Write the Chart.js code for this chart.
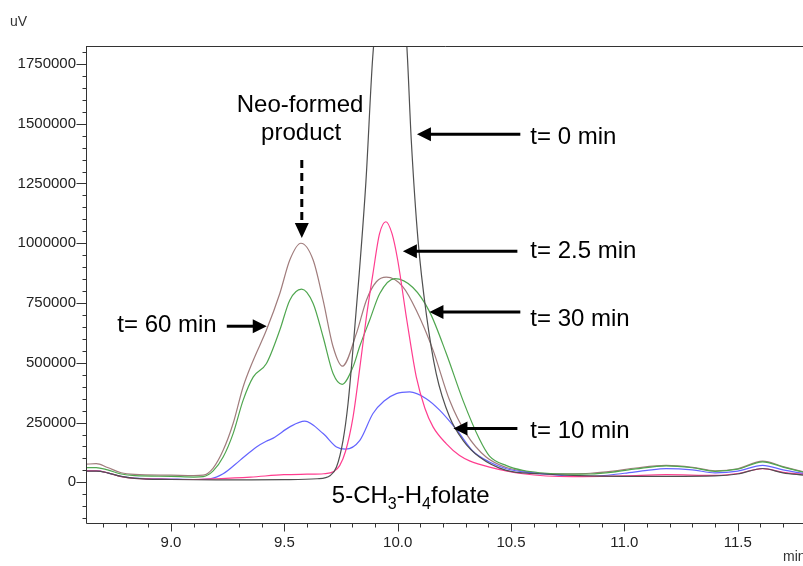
<!DOCTYPE html>
<html>
<head>
<meta charset="utf-8">
<style>
html,body{margin:0;padding:0;background:#fff;overflow:hidden}
canvas{display:block}
</style>
<script src="https://cdn.jsdelivr.net/npm/chart.js@4.4.0/dist/chart.umd.min.js"></script>
</head>
<body>
<canvas id="c" width="803" height="566" style="width:803px;height:566px"></canvas>
<script>
// ---------- data (retention time in min, signal in uV) ----------
const t0Time   = [8.625, 8.67, 8.72, 8.78, 8.84, 9.0, 9.2, 9.351, 9.5, 9.645, 9.703, 9.73, 9.759, 9.781, 9.803, 9.83, 9.86, 9.89, 9.92, 9.965, 10.01, 10.04, 10.06, 10.09, 10.126, 10.17, 10.229, 10.288, 10.361, 10.479, 10.626, 10.8, 11.0, 11.2, 11.4, 11.5, 11.61, 11.7, 11.79];
const t0Signal = [47000, 47000, 40000, 25000, 17000, 12000, 10000, 10000, 11000, 15000, 29000, 64000, 176000, 330000, 560000, 870000, 1260000, 1780000, 2050000, 2330000, 2150000, 1830000, 1430000, 1010000, 706000, 455000, 273000, 176000, 106000, 50000, 36000, 28000, 25000, 25000, 27000, 35000, 58000, 40000, 30000];

const t25Time   = [8.625, 8.67, 8.72, 8.78, 8.84, 9.0, 9.1, 9.2, 9.351, 9.498, 9.6, 9.674, 9.718, 9.744, 9.77, 9.803, 9.833, 9.862, 9.891, 9.92, 9.948, 9.975, 10.0, 10.038, 10.06, 10.082, 10.12, 10.156, 10.214, 10.273, 10.317, 10.405, 10.552, 10.77, 11.0, 11.184, 11.4, 11.5, 11.61, 11.7, 11.79];
const t25Signal = [48000, 48000, 40000, 24000, 17000, 13000, 12000, 15000, 22000, 32000, 34000, 36000, 45000, 70000, 130000, 273000, 480000, 692000, 874000, 1040000, 1090000, 1040000, 930000, 692000, 560000, 441000, 310000, 232000, 162000, 112000, 90000, 64000, 36000, 24000, 27000, 32000, 29000, 37000, 57000, 42000, 33000];

const t10Time   = [8.625, 8.67, 8.72, 8.78, 8.84, 9.0, 9.1, 9.172, 9.23, 9.304, 9.377, 9.42, 9.451, 9.524, 9.59, 9.671, 9.73, 9.77, 9.833, 9.891, 9.94, 9.994, 10.053, 10.126, 10.185, 10.26, 10.332, 10.405, 10.479, 10.626, 10.846, 11.0, 11.1, 11.184, 11.3, 11.4, 11.5, 11.61, 11.7, 11.79];
const t10Signal = [48000, 48000, 40000, 25000, 18000, 14000, 12000, 15000, 36000, 92000, 148000, 172000, 185000, 232000, 256000, 204000, 148000, 139000, 176000, 288000, 340000, 371000, 378000, 350000, 302000, 220000, 130000, 85000, 57000, 36000, 25000, 38000, 50000, 57000, 52000, 40000, 47000, 71000, 52000, 37000];

const t30Time   = [8.625, 8.67, 8.72, 8.78, 8.84, 9.0, 9.1, 9.142, 9.186, 9.23, 9.274, 9.318, 9.363, 9.421, 9.48, 9.524, 9.576, 9.627, 9.671, 9.715, 9.755, 9.803, 9.833, 9.877, 9.921, 9.987, 10.067, 10.141, 10.214, 10.288, 10.361, 10.405, 10.48, 10.552, 10.626, 10.75, 10.85, 10.95, 11.05, 11.184, 11.3, 11.4, 11.5, 11.61, 11.7, 11.79];
const t30Signal = [62000, 62000, 52000, 35000, 28000, 25000, 22000, 24000, 48000, 106000, 204000, 343000, 441000, 497000, 637000, 762000, 808000, 748000, 608000, 455000, 410000, 483000, 570000, 680000, 790000, 852000, 815000, 713000, 540000, 343000, 180000, 110000, 70000, 50000, 40000, 34000, 35000, 43000, 56000, 69000, 61000, 46000, 55000, 86000, 64000, 42000];

const t60Time   = [8.625, 8.67, 8.72, 8.78, 8.84, 9.0, 9.1, 9.142, 9.186, 9.23, 9.274, 9.318, 9.363, 9.421, 9.48, 9.524, 9.573, 9.627, 9.671, 9.715, 9.756, 9.818, 9.862, 9.906, 9.95, 10.023, 10.082, 10.156, 10.229, 10.302, 10.39, 10.48, 10.552, 10.626, 10.75, 10.85, 10.95, 11.05, 11.184, 11.3, 11.4, 11.5, 11.61, 11.7, 11.79];
const t60Signal = [76000, 78000, 62000, 40000, 33000, 30000, 28000, 30000, 60000, 134000, 246000, 399000, 511000, 637000, 790000, 930000, 1000000, 930000, 762000, 567000, 486000, 623000, 762000, 839000, 858000, 818000, 720000, 553000, 343000, 204000, 106000, 62000, 47000, 38000, 36000, 38000, 47000, 60000, 71000, 63000, 48000, 57000, 89000, 66000, 44000];

const seriesLabels = ['t= 0 min', 't= 2.5 min', 't= 10 min', 't= 30 min', 't= 60 min'];
const xMajorTicks = [9.0, 9.5, 10.0, 10.5, 11.0, 11.5];
const yMajorTicks = [0, 250000, 500000, 750000, 1000000, 1250000, 1500000, 1750000];
const xRange = [8.625, 11.788];
const yRange = [-170000, 1825000];

// ---------- styling ----------
const FONT = "'Liberation Sans', Arial, Helvetica, sans-serif";
const AXIS_COLOR = '#333';
const traces = [
  {label: seriesLabels[0], time: t0Time,  signal: t0Signal,  color: '#505050'},
  {label: seriesLabels[1], time: t25Time, signal: t25Signal, color: '#ff3d8f'},
  {label: seriesLabels[2], time: t10Time, signal: t10Signal, color: '#6464ff'},
  {label: seriesLabels[3], time: t30Time, signal: t30Signal, color: '#4fa64f'},
  {label: seriesLabels[4], time: t60Time, signal: t60Signal, color: '#a07c7c'}
];

// minor ticks lists
const xTickValues = [];
for (let k = 87; k <= 117; k++) xTickValues.push(k / 10);
const yTickValues = [];
for (let k = -3; k <= 36; k++) yTickValues.push(k * 50000);

// annotations in data coordinates (time, signal)
const arrows = [
  {from: [9.246, 653000],  to: [9.4225, 653000]},   // t=60
  {from: [10.541, 1456000], to: [10.085, 1456000]}, // t=0
  {from: [10.528, 967000], to: [10.023, 967000]},   // t=2.5
  {from: [10.541, 712000], to: [10.140, 712000]},   // t=30
  {from: [10.528, 225000], to: [10.246, 225000]}    // t=10
];
const labels = [
  {text: seriesLabels[4], at: [8.763, 628000], align: 'left'},
  {text: seriesLabels[0], at: [10.585, 1414000], align: 'left'},
  {text: seriesLabels[1], at: [10.585, 938000], align: 'left'},
  {text: seriesLabels[3], at: [10.585, 655000], align: 'left'},
  {text: seriesLabels[2], at: [10.585, 186000], align: 'left'},
  {text: 'Neo-formed', at: [9.5695, 1551000], align: 'center'},
  {text: 'product', at: [9.574, 1432000], align: 'center'}
];
const dashedArrow = {from: [9.577, 1348000], to: [9.577, 1022000]};
const folateLabelAt = [9.7095, -88000];

function drawArrowHead(ctx, x1, y1, x2, y2, len, half) {
  const ang = Math.atan2(y2 - y1, x2 - x1);
  ctx.beginPath();
  ctx.moveTo(x2, y2);
  ctx.lineTo(x2 - len * Math.cos(ang) + half * Math.sin(ang), y2 - len * Math.sin(ang) - half * Math.cos(ang));
  ctx.lineTo(x2 - len * Math.cos(ang) - half * Math.sin(ang), y2 - len * Math.sin(ang) + half * Math.cos(ang));
  ctx.closePath();
  ctx.fill();
}

const decorPlugin = {
  id: 'decor',
  afterDraw(chart) {
    const {ctx, chartArea: a, scales: {x, y}} = chart;
    ctx.save();
    // frame
    ctx.strokeStyle = AXIS_COLOR;
    ctx.lineWidth = 1;
    ctx.beginPath();
    ctx.moveTo(a.left + 0.5, a.top + 0.5);
    ctx.lineTo(a.right + 1, a.top + 0.5);
    ctx.moveTo(a.left + 0.5, a.top);
    ctx.lineTo(a.left + 0.5, a.bottom + 0.5);
    ctx.lineTo(a.right + 1, a.bottom + 0.5);
    ctx.stroke();
    // y ticks
    ctx.beginPath();
    y.ticks.forEach(t => {
      const py = Math.round(y.getPixelForValue(t.value)) + 0.5;
      const major = yMajorTicks.includes(t.value);
      ctx.moveTo(a.left + 0.5, py);
      ctx.lineTo(a.left + 0.5 - (major ? 10 : 4), py);
    });
    // x ticks
    x.ticks.forEach(t => {
      const px = Math.round(x.getPixelForValue(t.value)) + 0.5;
      const major = xMajorTicks.some(m => Math.abs(m - t.value) < 1e-6);
      ctx.moveTo(px, a.bottom + 0.5);
      ctx.lineTo(px, a.bottom + 0.5 + (major ? 8 : 4));
    });
    ctx.stroke();

    // axis unit labels
    ctx.fillStyle = '#333';
    ctx.font = '14px ' + FONT;
    ctx.textBaseline = 'alphabetic';
    ctx.textAlign = 'left';
    ctx.fillText('uV', 10, 26);
    ctx.fillText('min', 783, 561);

    // annotations
    ctx.fillStyle = '#000';
    ctx.strokeStyle = '#000';
    ctx.lineWidth = 3;
    arrows.forEach(ar => {
      const x1 = x.getPixelForValue(ar.from[0]), y1 = y.getPixelForValue(ar.from[1]);
      const x2 = x.getPixelForValue(ar.to[0]), y2 = y.getPixelForValue(ar.to[1]);
      const dir = Math.sign(x2 - x1);
      ctx.beginPath();
      ctx.moveTo(x1, y1);
      ctx.lineTo(x2 - dir * 10, y2);
      ctx.stroke();
      drawArrowHead(ctx, x1, y1, x2, y2, 14, 7);
    });
    // dashed arrow
    {
      const x1 = x.getPixelForValue(dashedArrow.from[0]), y1 = y.getPixelForValue(dashedArrow.from[1]);
      const x2 = x.getPixelForValue(dashedArrow.to[0]), y2 = y.getPixelForValue(dashedArrow.to[1]);
      ctx.setLineDash([8, 5]);
      ctx.beginPath();
      ctx.moveTo(x1, y1);
      ctx.lineTo(x2, y2 - 14);
      ctx.stroke();
      ctx.setLineDash([]);
      drawArrowHead(ctx, x1, y1, x2, y2, 15, 7);
    }
    ctx.font = '24px ' + FONT;
    labels.forEach(l => {
      ctx.textAlign = l.align;
      ctx.fillText(l.text, x.getPixelForValue(l.at[0]), y.getPixelForValue(l.at[1]));
    });
    // 5-CH3-H4folate with subscripts
    {
      let px = x.getPixelForValue(folateLabelAt[0]);
      const py = y.getPixelForValue(folateLabelAt[1]);
      ctx.textAlign = 'left';
      const parts = [['5-CH', false], ['3', true], ['-H', false], ['4', true], ['folate', false]];
      parts.forEach(([s, sub]) => {
        ctx.font = (sub ? '16px ' : '24px ') + FONT;
        ctx.fillText(s, px, sub ? py + 6 : py);
        px += ctx.measureText(s).width;
      });
    }
    ctx.restore();
  }
};

new Chart(document.getElementById('c'), {
  type: 'line',
  data: {
    datasets: traces.map(tr => ({
      label: tr.label,
      data: tr.time.map((t, i) => ({x: t, y: tr.signal[i]})),
      borderColor: tr.color,
      borderWidth: 1.2,
      pointRadius: 0,
      fill: false,
      cubicInterpolationMode: 'monotone'
    }))
  },
  options: {
    responsive: false,
    animation: false,
    events: [],
    layout: {padding: {top: 46, left: 0, right: 0, bottom: 0}},
    plugins: {legend: {display: false}, tooltip: {enabled: false}},
    scales: {
      x: {
        type: 'linear',
        min: xRange[0], max: xRange[1],
        afterFit: s => { s.height = 43; },
        afterBuildTicks: s => { s.ticks = xTickValues.map(v => ({value: v})); },
        grid: {display: false, drawTicks: false},
        border: {display: false},
        ticks: {
          autoSkip: false, maxRotation: 0, padding: 11,
          color: '#222', font: {family: FONT, size: 15},
          callback: v => { const k = Math.round(v * 10); return k % 5 === 0 ? (k / 10).toFixed(1) : ''; }
        }
      },
      y: {
        type: 'linear',
        min: yRange[0], max: yRange[1],
        afterFit: s => { s.width = 86; },
        afterBuildTicks: s => { s.ticks = yTickValues.map(v => ({value: v})); },
        grid: {display: false, drawTicks: false},
        border: {display: false},
        ticks: {
          autoSkip: false, padding: 10,
          color: '#222', font: {family: FONT, size: 15},
          callback: v => yMajorTicks.includes(v) ? String(v) : ''
        }
      }
    }
  },
  plugins: [decorPlugin]
});
</script>
</body>
</html>
